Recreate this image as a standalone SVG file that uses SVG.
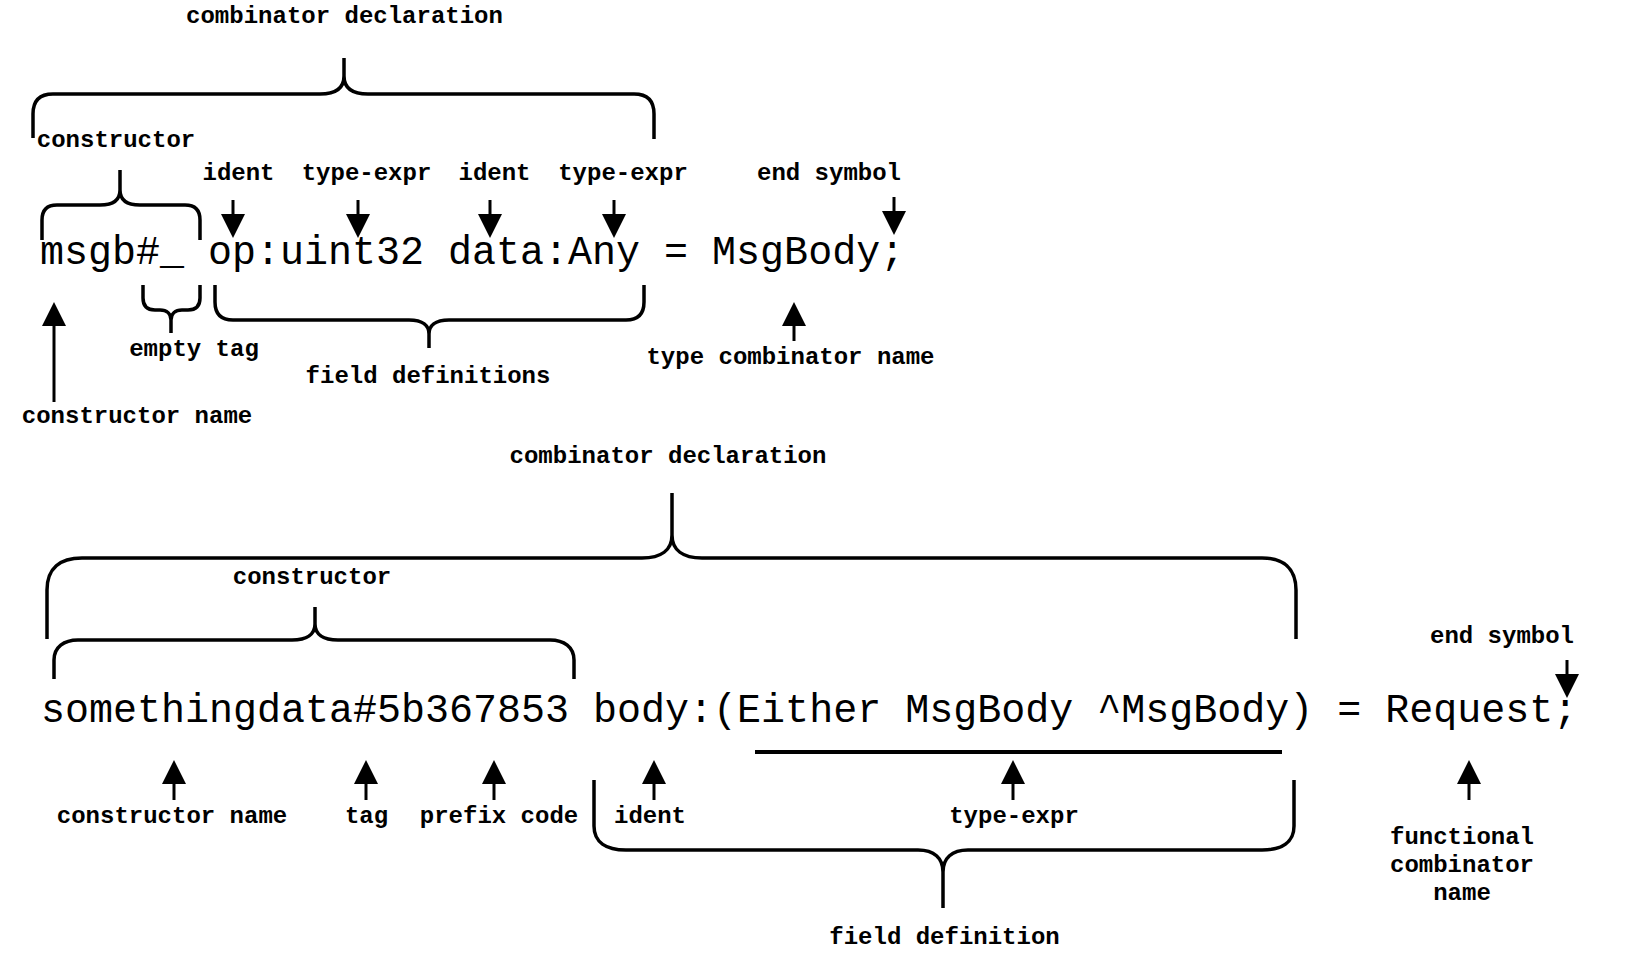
<svg xmlns="http://www.w3.org/2000/svg" width="1635" height="960" viewBox="0 0 1635 960">
<style>
.lbl{font-family:"Liberation Mono","Courier New",monospace;font-weight:bold;font-size:24px;fill:#000;text-anchor:middle}
.code{font-family:"Liberation Mono","Courier New",monospace;font-size:40px;fill:#000}
.brace{fill:none;stroke:#000;stroke-width:3.5}
.arrow{fill:none;stroke:#000;stroke-width:3;marker-end:url(#ah)}
.rule{stroke:#000;stroke-width:4}
</style>
<defs>
<marker id="ah" markerUnits="userSpaceOnUse" viewBox="0 0 24 24" markerWidth="24" markerHeight="24" refX="12" refY="12" orient="auto">
<path d="M0,0 L24,12 L0,24 Z" fill="#000"/>
</marker>
</defs>
<rect width="1635" height="960" fill="#fff"/>

<g id="code1"><text class="code" x="40" y="264">msgb#_ op:uint32 data:Any = MsgBody;</text></g>
<g id="code2"><text class="code" x="41" y="722">somethingdata#5b367853 body:(Either MsgBody ^MsgBody) = Request;</text></g>

<g id="t-combdecl1"><text class="lbl" x="344.5" y="23">combinator declaration</text></g>
<g id="t-constructor1"><text class="lbl" x="116" y="147">constructor</text></g>
<g id="t-ident1"><text class="lbl" x="238.5" y="180">ident</text></g>
<g id="t-typeexpr1"><text class="lbl" x="366.5" y="180">type-expr</text></g>
<g id="t-ident2"><text class="lbl" x="494.5" y="180">ident</text></g>
<g id="t-typeexpr2"><text class="lbl" x="623" y="180">type-expr</text></g>
<g id="t-endsym1"><text class="lbl" x="829" y="180">end symbol</text></g>
<g id="t-emptytag"><text class="lbl" x="194" y="356">empty tag</text></g>
<g id="t-fielddefs"><text class="lbl" x="428" y="383">field definitions</text></g>
<g id="t-typecomb"><text class="lbl" x="790.5" y="364">type combinator name</text></g>
<g id="t-consname1"><text class="lbl" x="137" y="423">constructor name</text></g>

<g id="t-combdecl2"><text class="lbl" x="668" y="463">combinator declaration</text></g>
<g id="t-constructor2"><text class="lbl" x="312" y="584">constructor</text></g>
<g id="t-endsym2"><text class="lbl" x="1502" y="643">end symbol</text></g>
<g id="t-consname2"><text class="lbl" x="172" y="823">constructor name</text></g>
<g id="t-tag"><text class="lbl" x="366.5" y="823">tag</text></g>
<g id="t-prefix"><text class="lbl" x="499" y="823">prefix code</text></g>
<g id="t-ident3"><text class="lbl" x="650" y="823">ident</text></g>
<g id="t-typeexpr3"><text class="lbl" x="1014" y="823">type-expr</text></g>
<g id="t-fielddef"><text class="lbl" x="944.5" y="944">field definition</text></g>
<g id="t-funccomb"><text class="lbl" x="1462" y="844">functional</text><text class="lbl" x="1462" y="872">combinator</text><text class="lbl" x="1462" y="900">name</text></g>

<g id="connectors">
<path class="brace" d="M33,138 V114 Q33,94 53,94 H320 C336,94 344,88 344,76 V58 M344,76 C344,88 352,94 368,94 H634 Q654,94 654,114 V139"/>
<path class="brace" d="M42,240 V220 Q42,205 57,205 H100 C114,205 120,200 120,190 V170 M120,190 C120,200 126,205 140,205 H185 Q200,205 200,220 V240"/>
<path class="brace" d="M143,285 V298 Q143,310 155,310 H160 C167,310 171,314 171,320 V333 M171,320 C171,314 175,310 182,310 H188 Q200,310 200,298 V285"/>
<path class="brace" d="M215,285 V302 Q215,320 233,320 H409 C423,320 429,326 429,334 V348 M429,334 C429,326 435,320 449,320 H626 Q644,320 644,302 V285"/>
<path class="brace" d="M47,639 V590 C47,568 60,558 82,558 H642 C661,558 672,550 672,535 V493 M672,535 C672,550 683,558 702,558 H1262 C1283,558 1296,568 1296,590 V639"/>
<path class="brace" d="M54,679 V660 C54,647 64,640 78,640 H292 C307,640 315,634 315,624 V607 M315,624 C315,634 323,640 338,640 H550 C564,640 574,647 574,660 V679"/>
<path class="brace" d="M594,780 V826 C594,842 606,850 626,850 H918 C934,850 943,858 943,872 V908 M943,872 C943,858 952,850 968,850 H1262 C1282,850 1294,842 1294,826 V780"/>
<line class="rule" x1="755" y1="752" x2="1282" y2="752"/>

<line class="arrow" x1="233" y1="200" x2="233" y2="226"/>
<line class="arrow" x1="358" y1="200" x2="358" y2="226"/>
<line class="arrow" x1="490" y1="200" x2="490" y2="226"/>
<line class="arrow" x1="614" y1="200" x2="614" y2="226"/>
<line class="arrow" x1="894" y1="197" x2="894" y2="223"/>
<line class="arrow" x1="54" y1="402" x2="54" y2="314"/>
<line class="arrow" x1="794" y1="341" x2="794" y2="314"/>

<line class="arrow" x1="174" y1="800" x2="174" y2="772"/>
<line class="arrow" x1="366" y1="800" x2="366" y2="772"/>
<line class="arrow" x1="494" y1="800" x2="494" y2="772"/>
<line class="arrow" x1="654" y1="800" x2="654" y2="772"/>
<line class="arrow" x1="1013" y1="800" x2="1013" y2="772"/>
<line class="arrow" x1="1469" y1="800" x2="1469" y2="772"/>
<line class="arrow" x1="1567" y1="660" x2="1567" y2="686"/>
</g>
</svg>
